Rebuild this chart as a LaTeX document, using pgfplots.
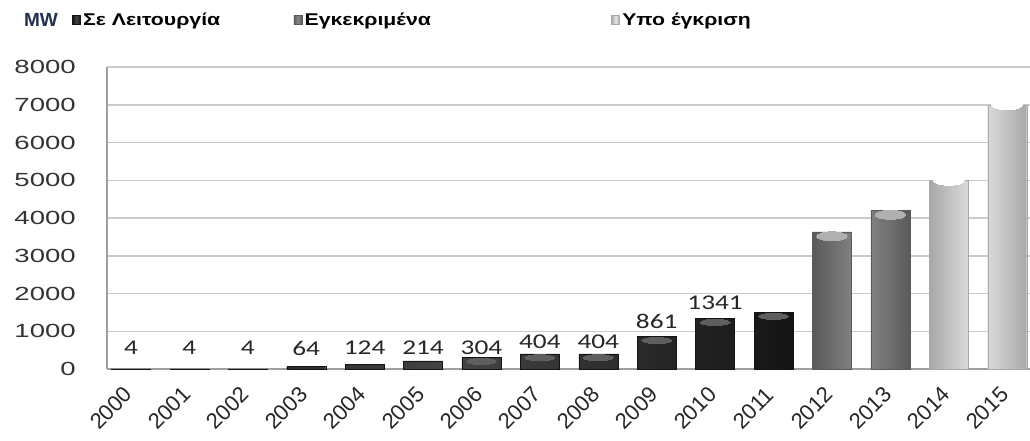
\documentclass[border=0pt]{standalone}
\usepackage{fontspec}
\setmainfont{Liberation Sans}
\newfontfamily\labfont{Carlito}
\usepackage{pgfplots}
\pgfplotsset{compat=1.18}
\definecolor{dkE}{HTML}{141414}
\definecolor{dkM}{HTML}{444444}
\definecolor{dkH}{HTML}{5E5E5E}
\definecolor{mdE}{HTML}{5A5A5A}
\definecolor{mdM}{HTML}{8A8A8A}
\definecolor{mdH}{HTML}{B0B0B0}
\definecolor{ltE}{HTML}{A8A8A8}
\definecolor{ltM}{HTML}{E6E6E6}
\definecolor{gridc}{HTML}{CACACA}
\definecolor{axisc}{HTML}{A0A0A0}
\definecolor{mwblue}{HTML}{1F3050}

\pgfplotstableread{
x y
0 4
1 4
2 4
3 64
4 124
5 214
6 304
7 404
8 404
9 861
10 1341
11 1500
}\oper
\pgfplotstableread{
x y
12 3630
13 4200
}\approved
\pgfplotstableread{
x y
14 5000
15 7000
}\pending
\pgfplotstableread{
x y lab
0 556 4
1 556 4
2 556 4
3 556 64
4 556 124
5 556 214
6 556 304
7 720 404
8 720 404
9 1250 861
10 1745 1341
}\labels
% highlight positions on bar tops
\pgfplotstableread{
x y
6 200
7 300
8 300
9 755
10 1235
11 1395
}\operhl
\pgfplotstableread{
x y
12 3515
13 4085
}\approvedhl

\begin{document}
\begin{tikzpicture}
\useasboundingbox (0,0) rectangle (1030pt,440pt);
\begin{axis}[
  at={(107pt,71pt)}, anchor=south west,
  scale only axis, width=923pt, height=302pt,
  xmin=-0.41, xmax=15.39, ymin=0, ymax=8000,
  clip=false,
  ybar, bar width=39pt, bar shift=0pt,
  axis x line=bottom, axis y line=left,
  axis line style={-, draw=axisc, line width=1.5pt},
  major tick length=0pt,
  ytick={0,1000,...,8000},
  ymajorgrids, grid style={draw=gridc, line width=1.5pt},
  xtick={0,...,15},
  xticklabels={2000,2001,2002,2003,2004,2005,2006,2007,2008,2009,2010,2011,2012,2013,2014,2015},
  /pgf/number format/assume math mode=true,
  /pgf/number format/1000 sep={},
  yticklabel style={font=\fontsize{19}{19}\selectfont, text=black!80, xscale=1.45, anchor=east, xshift=-18pt},
  xticklabel style={font=\fontsize{22}{22}\selectfont, text=black!85, anchor=center,
    xshift=-20pt, yshift=-39pt, rotate=45},
  legend columns=3,
  legend image code/.code={\fill[#1] (0pt,-4.5pt) rectangle (8pt,4.5pt);},
  legend style={draw=none, fill=none, inner sep=0pt,
    at={(rel axis cs:-0.0379,1.1556)}, anchor=west,
    nodes={xscale=1.25},
    font=\bfseries\fontsize{17}{17}\selectfont,
    /tikz/column 2/.style={column sep=71pt},
    /tikz/column 4/.style={column sep=178pt}},
]
\addplot[draw=dkE, left color=dkE, right color=dkE, middle color=dkM] table[x=x,y=y] {\oper};
\addlegendentry{Σε Λειτουργία}
\addplot[draw=mdE, left color=mdE, right color=mdE, middle color=mdM] table[x=x,y=y] {\approved};
\addlegendentry{Εγκεκριμένα}
\addplot[draw=ltE, left color=ltE, right color=ltE, middle color=ltM] table[x=x,y=y] {\pending};
\addlegendentry{Υπο έγκριση}
% cylinder-top highlights
\addplot[sharp plot, draw=none, forget plot, mark=*, mark size=3pt,
  mark options={xscale=5, draw=dkH, fill=dkH, line width=0pt}] table[x=x,y=y] {\operhl};
\addplot[sharp plot, draw=none, forget plot, mark=*, mark size=4.5pt,
  mark options={xscale=3.4, draw=mdH, fill=mdH, line width=0pt}] table[x=x,y=y] {\approvedhl};
\addplot[sharp plot, draw=none, forget plot, mark=*, mark size=5pt,
  mark options={xscale=3.1, draw=white, fill=white, line width=0pt}] table[x=x,y=y] {\pending};
\addplot[sharp plot, draw=none, forget plot, nodes near coords, point meta=explicit symbolic,
  every node near coord/.append style={anchor=center, font=\labfont\fontsize{21}{21}\selectfont, xscale=1.3, text=black!85}]
  table[x=x,y=y,meta=lab] {\labels};
\node[font=\bfseries\fontsize{19}{19}\selectfont, text=mwblue] at (rel axis cs:-0.0716,1.1556) {MW};
\end{axis}
\end{tikzpicture}
\end{document}
